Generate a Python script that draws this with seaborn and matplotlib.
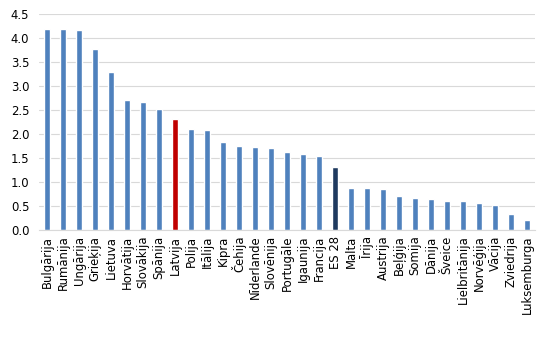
import matplotlib
matplotlib.use("Agg")
import matplotlib.pyplot as plt
import seaborn as sns
import pandas as pd

countries = ["Bulgārija", "Rumānija", "Ungārija", "Grieķija", "Lietuva", "Horvātija",
             "Slovākija", "Spānija", "Latvija", "Polija", "Itālija", "Kipra", "Čehija",
             "Nīderlande", "Slovēnija", "Portugāle", "Igaunija", "Francija", "ES 28",
             "Malta", "Īrija", "Austrija", "Beļģija", "Somija", "Dānija", "Šveice",
             "Lielbritānija", "Norvēģija", "Vācija", "Zviedrija", "Luksemburga"]
values = [4.19, 4.19, 4.17, 3.78, 3.29, 2.72, 2.68, 2.53, 2.32, 2.11, 2.09, 1.84, 1.76,
          1.74, 1.72, 1.62, 1.58, 1.55, 1.31, 0.88, 0.88, 0.86, 0.72, 0.68, 0.65, 0.61,
          0.61, 0.56, 0.52, 0.34, 0.22]
y_ticks = [0.0, 0.5, 1.0, 1.5, 2.0, 2.5, 3.0, 3.5, 4.0, 4.5]

def group(c):
    if c == "Latvija":
        return "lv"
    if c == "ES 28":
        return "eu"
    return "other"

df = pd.DataFrame({"country": countries, "value": values})
df["grp"] = df["country"].map(group)
palette = {"other": "#4F81BD", "lv": "#C00000", "eu": "#1F3A5F"}

sns.set_theme(style="white")
plt.rcParams["font.family"] = ["DejaVu Sans"]

fig = plt.figure(figsize=(5.5, 3.44), dpi=100)
ax = fig.add_axes([0.071, 0.331, 0.902, 0.627])
sns.barplot(data=df, x="country", y="value", hue="grp", palette=palette,
            dodge=False, width=0.36, legend=False, ax=ax, saturation=1)

ax.set_ylim(0, 4.5)
ax.set_yticks(y_ticks)
ax.set_yticklabels([f"{t:.1f}" for t in y_ticks], fontsize=8.4)
ax.set_xlim(-0.5, len(countries) - 0.5)
ax.tick_params(axis="x", labelrotation=90, labelsize=8.4, length=0, pad=4)
ax.tick_params(axis="y", length=0, pad=7)
for lab in ax.get_xticklabels() + ax.get_yticklabels():
    lab.set_color("black")
ax.yaxis.grid(True, color="#D9D9D9", linewidth=0.8)
ax.set_axisbelow(True)
for s in ["top", "right", "left"]:
    ax.spines[s].set_visible(False)
ax.spines["bottom"].set_color("#D9D9D9")
ax.spines["bottom"].set_linewidth(0.8)
ax.set_xlabel("")
ax.set_ylabel("")

fig.savefig("out.png", dpi=100)
